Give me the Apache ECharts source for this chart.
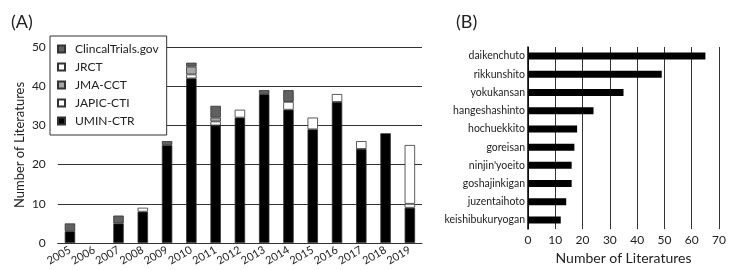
<!DOCTYPE html>
<html>
<head>
<meta charset="utf-8">
<script src="https://cdn.jsdelivr.net/npm/echarts@6/dist/echarts.min.js"></script>
<style>
  html, body { margin: 0; padding: 0; background: #fff; }
  #chart { width: 729px; height: 270px; }
</style>
</head>
<body>
<div id="chart"></div>
<script>
// (A) 年度别文献数
const years = ['2005', '2006', '2007', '2008', '2009', '2010', '2011', '2012', '2013', '2014', '2015', '2016', '2017', '2018', '2019']
const umin = [3, 0, 5, 8, 25, 42, 30, 32, 38, 34, 29, 36, 24, 28, 9]
const japic = [0, 0, 0, 1, 0, 1, 1, 2, 0, 2, 3, 2, 2, 0, 1]
const jma = [0, 0, 0, 0, 0, 2, 1, 0, 0, 0, 0, 0, 0, 0, 0]
const jrct = [0, 0, 0, 0, 0, 0, 0, 0, 0, 0, 0, 0, 0, 0, 15]
const clinical = [2, 0, 2, 0, 1, 1, 3, 0, 1, 3, 0, 0, 0, 0, 0]
const yTicksA = [0, 10, 20, 30, 40, 50]

// (B) 方剂别文献数
const kampo = ['daikenchuto', 'rikkunshito', 'yokukansan', 'hangeshashinto', 'hochuekkito', 'goreisan', "ninjin'yoeito", 'goshajinkigan', 'juzentaihoto', 'keishibukuryogan']
const kampoCount = [65, 49, 35, 24, 18, 17, 16, 16, 14, 12]
const xTicksB = [0, 10, 20, 30, 40, 50, 60, 70]

const font = 'Lato, "Open Sans", sans-serif'
const lineColor = '#333'

let myChart = echarts.init(document.getElementById('chart'))

function stackSeries(name, data, color) {
  return {
    name: name,
    type: 'bar',
    stack: 'total',
    xAxisIndex: 0,
    yAxisIndex: 0,
    barWidth: '43%',
    // 0 的段不画，否则会留下一条边框线
    data: data.map(v => v === 0 ? '-' : v),
    itemStyle: {
      color: color,
      borderColor: '#333',
      borderWidth: 0.8
    }
  }
}

let option = {
  backgroundColor: '#fff',
  animation: false,
  textStyle: { fontFamily: font },
  title: [
    { text: '(A)', left: 6, top: 8, textStyle: { fontSize: 18, fontWeight: 'normal', color: '#222', fontFamily: font } },
    { text: '(B)', left: 451, top: 8, textStyle: { fontSize: 18, fontWeight: 'normal', color: '#222', fontFamily: font } }
  ],
  legend: {
    orient: 'vertical',
    left: 50,
    top: 36,
    padding: [7, 8, 8, 7],
    itemGap: 6,
    itemWidth: 7,
    itemHeight: 7,
    backgroundColor: '#fff',
    borderColor: lineColor,
    borderWidth: 1,
    borderRadius: 0,
    icon: 'rect',
    textStyle: { fontSize: 12, color: '#222', fontFamily: font, padding: [0, 0, 0, 5] },
    data: ['ClincalTrials.gov', 'JRCT', 'JMA-CCT', 'JAPIC-CTI', 'UMIN-CTR']
  },
  grid: [
    { left: 42, right: 307, top: 47, bottom: 27 },
    { left: 528, right: 5, top: 47, bottom: 27 }
  ],
  xAxis: [{
    type: 'category',
    gridIndex: 0,
    data: years,
    axisTick: { show: false },
    axisLine: { lineStyle: { color: lineColor } },
    axisLabel: { rotate: 30, interval: 0, fontSize: 11, color: '#222', margin: 6 }
  }, {
    type: 'value',
    gridIndex: 1,
    min: xTicksB[0],
    max: xTicksB[xTicksB.length - 1],
    interval: 10,
    name: 'Number of Literatures',
    nameLocation: 'middle',
    nameGap: 21,
    nameTextStyle: { fontSize: 14, color: '#222' },
    axisTick: { show: false },
    axisLine: { show: false },
    splitLine: { lineStyle: { color: lineColor } },
    axisLabel: { fontSize: 12, color: '#222', margin: 5 }
  }],
  yAxis: [{
    type: 'value',
    gridIndex: 0,
    min: yTicksA[0],
    max: yTicksA[yTicksA.length - 1],
    interval: 10,
    name: 'Number of Literatures',
    nameLocation: 'middle',
    nameGap: 32,
    nameTextStyle: { fontSize: 13, color: '#222' },
    axisLine: { show: false },
    axisTick: { show: false },
    splitLine: { lineStyle: { color: lineColor } },
    axisLabel: { fontSize: 12, color: '#222', margin: 12 }
  }, {
    type: 'category',
    gridIndex: 1,
    inverse: true,
    data: kampo,
    axisTick: { show: false },
    axisLine: { lineStyle: { color: '#000', width: 1.5 } },
    axisLabel: { fontSize: 10.5, color: '#222', margin: 3 }
  }],
  series: [
    stackSeries('UMIN-CTR', umin, '#000'),
    stackSeries('JAPIC-CTI', japic, '#fff'),
    stackSeries('JMA-CCT', jma, '#a6a6a6'),
    stackSeries('JRCT', jrct, '#fff'),
    stackSeries('ClincalTrials.gov', clinical, '#606060'),
    {
      name: 'kampo',
      type: 'bar',
      xAxisIndex: 1,
      yAxisIndex: 1,
      barWidth: 7,
      data: kampoCount,
      itemStyle: { color: '#000' }
    }
  ]
}
myChart.setOption(option)
window.addEventListener('resize', () => {
  myChart && myChart.resize()
})
</script>
</body>
</html>
